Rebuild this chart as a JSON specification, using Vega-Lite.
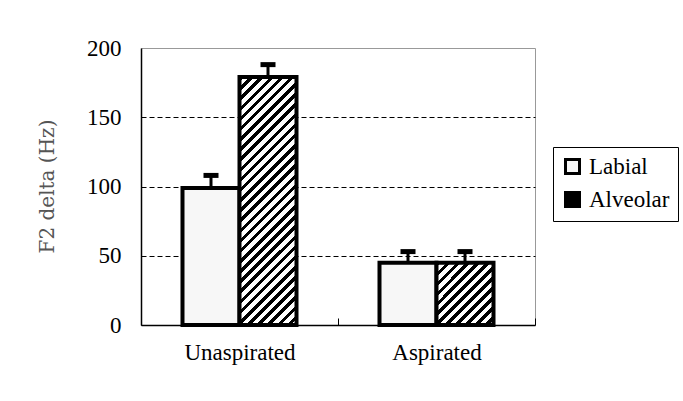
{
  "$schema": "https://vega.github.io/schema/vega-lite/v6.json",
  "width": 394,
  "height": 277,
  "autosize": {"type": "none"},
  "padding": {"left": 141, "top": 48, "right": 148, "bottom": 76},
  "background": "white",
  "config": {"view": {"stroke": "#999", "strokeWidth": 1}, "font": "Liberation Serif, serif"},
  "data": {"values": [
    {"cat": "Unaspirated", "type": "Labial", "value": 99, "err": 108},
    {"cat": "Unaspirated", "type": "Alveolar", "value": 179, "err": 188},
    {"cat": "Aspirated", "type": "Labial", "value": 45, "err": 53},
    {"cat": "Aspirated", "type": "Alveolar", "value": 45, "err": 53}
  ]},
  "encoding": {
    "x": {
      "field": "cat", "type": "nominal", "sort": ["Unaspirated", "Aspirated"],
      "scale": {"paddingInner": 0, "paddingOuter": 0},
      "axis": {
        "title": null, "labelAngle": 0, "labelFontSize": 23, "labelFont": "Liberation Serif, serif",
        "labelColor": "black", "labelPadding": 23, "labelBaseline": "top",
        "tickBand": "extent", "tickSize": -7, "tickColor": "black", "tickWidth": 1,
        "domainColor": "black", "domainWidth": 1.5
      }
    },
    "xOffset": {"field": "type", "sort": ["Labial", "Alveolar"], "scale": {"paddingInner": 0, "paddingOuter": 0.728}}
  },
  "layer": [
    {
      "mark": {"type": "bar", "stroke": "black", "strokeWidth": 4},
      "encoding": {
        "y": {
          "field": "value", "type": "quantitative",
          "scale": {"domain": [0, 200], "nice": false},
          "axis": {
            "title": "F2 delta (Hz)", "values": [0, 50, 100, 150, 200],
            "grid": true,
            "gridColor": "black",
            "gridDash": [5, 3],
            "gridOpacity": {"condition": {"test": "datum.value === 200 || datum.value === 0", "value": 0}, "value": 1},
            "ticks": false, "labelPadding": 20, "labelFontSize": 23, "labelFont": "Liberation Serif, serif",
            "labelColor": "black", "domainColor": "black", "domainWidth": 1.5,
            "titleFont": "DejaVu Serif, serif", "titleFontSize": 20, "titleFontWeight": "normal",
            "titleColor": "#555", "titleX": -94, "titleY": 138, "titleAngle": -90,
            "titleAlign": "center", "titleBaseline": "middle"
          }
        },
        "fill": {
          "field": "type", "type": "nominal",
          "scale": {"domain": ["Labial", "Alveolar"], "range": ["#f7f7f7", "black"]},
          "condition": [
            {"test": "datum.type === 'Alveolar' && datum.cat === 'Unaspirated'", "value": {
              "gradient": "linear", "x1": 0, "y1": 0, "x2": 0.2685, "y2": 1.168,
              "stops": [
                {"offset": 0, "color": "black"}, {"offset": 0.015, "color": "black"}, {"offset": 0.015, "color": "white"}, {"offset": 0.0333, "color": "white"},
                {"offset": 0.0333, "color": "black"}, {"offset": 0.0483, "color": "black"}, {"offset": 0.0483, "color": "white"}, {"offset": 0.0667, "color": "white"},
                {"offset": 0.0667, "color": "black"}, {"offset": 0.0817, "color": "black"}, {"offset": 0.0817, "color": "white"}, {"offset": 0.1, "color": "white"},
                {"offset": 0.1, "color": "black"}, {"offset": 0.115, "color": "black"}, {"offset": 0.115, "color": "white"}, {"offset": 0.1333, "color": "white"},
                {"offset": 0.1333, "color": "black"}, {"offset": 0.1483, "color": "black"}, {"offset": 0.1483, "color": "white"}, {"offset": 0.1667, "color": "white"},
                {"offset": 0.1667, "color": "black"}, {"offset": 0.1817, "color": "black"}, {"offset": 0.1817, "color": "white"}, {"offset": 0.2, "color": "white"},
                {"offset": 0.2, "color": "black"}, {"offset": 0.215, "color": "black"}, {"offset": 0.215, "color": "white"}, {"offset": 0.2333, "color": "white"},
                {"offset": 0.2333, "color": "black"}, {"offset": 0.2483, "color": "black"}, {"offset": 0.2483, "color": "white"}, {"offset": 0.2667, "color": "white"},
                {"offset": 0.2667, "color": "black"}, {"offset": 0.2817, "color": "black"}, {"offset": 0.2817, "color": "white"}, {"offset": 0.3, "color": "white"},
                {"offset": 0.3, "color": "black"}, {"offset": 0.315, "color": "black"}, {"offset": 0.315, "color": "white"}, {"offset": 0.3333, "color": "white"},
                {"offset": 0.3333, "color": "black"}, {"offset": 0.3483, "color": "black"}, {"offset": 0.3483, "color": "white"}, {"offset": 0.3667, "color": "white"},
                {"offset": 0.3667, "color": "black"}, {"offset": 0.3817, "color": "black"}, {"offset": 0.3817, "color": "white"}, {"offset": 0.4, "color": "white"},
                {"offset": 0.4, "color": "black"}, {"offset": 0.415, "color": "black"}, {"offset": 0.415, "color": "white"}, {"offset": 0.4333, "color": "white"},
                {"offset": 0.4333, "color": "black"}, {"offset": 0.4483, "color": "black"}, {"offset": 0.4483, "color": "white"}, {"offset": 0.4667, "color": "white"},
                {"offset": 0.4667, "color": "black"}, {"offset": 0.4817, "color": "black"}, {"offset": 0.4817, "color": "white"}, {"offset": 0.5, "color": "white"},
                {"offset": 0.5, "color": "black"}, {"offset": 0.515, "color": "black"}, {"offset": 0.515, "color": "white"}, {"offset": 0.5333, "color": "white"},
                {"offset": 0.5333, "color": "black"}, {"offset": 0.5483, "color": "black"}, {"offset": 0.5483, "color": "white"}, {"offset": 0.5667, "color": "white"},
                {"offset": 0.5667, "color": "black"}, {"offset": 0.5817, "color": "black"}, {"offset": 0.5817, "color": "white"}, {"offset": 0.6, "color": "white"},
                {"offset": 0.6, "color": "black"}, {"offset": 0.615, "color": "black"}, {"offset": 0.615, "color": "white"}, {"offset": 0.6333, "color": "white"},
                {"offset": 0.6333, "color": "black"}, {"offset": 0.6483, "color": "black"}, {"offset": 0.6483, "color": "white"}, {"offset": 0.6667, "color": "white"},
                {"offset": 0.6667, "color": "black"}, {"offset": 0.6817, "color": "black"}, {"offset": 0.6817, "color": "white"}, {"offset": 0.7, "color": "white"},
                {"offset": 0.7, "color": "black"}, {"offset": 0.715, "color": "black"}, {"offset": 0.715, "color": "white"}, {"offset": 0.7333, "color": "white"},
                {"offset": 0.7333, "color": "black"}, {"offset": 0.7483, "color": "black"}, {"offset": 0.7483, "color": "white"}, {"offset": 0.7667, "color": "white"},
                {"offset": 0.7667, "color": "black"}, {"offset": 0.7817, "color": "black"}, {"offset": 0.7817, "color": "white"}, {"offset": 0.8, "color": "white"},
                {"offset": 0.8, "color": "black"}, {"offset": 0.815, "color": "black"}, {"offset": 0.815, "color": "white"}, {"offset": 0.8333, "color": "white"},
                {"offset": 0.8333, "color": "black"}, {"offset": 0.8483, "color": "black"}, {"offset": 0.8483, "color": "white"}, {"offset": 0.8667, "color": "white"},
                {"offset": 0.8667, "color": "black"}, {"offset": 0.8817, "color": "black"}, {"offset": 0.8817, "color": "white"}, {"offset": 0.9, "color": "white"},
                {"offset": 0.9, "color": "black"}, {"offset": 0.915, "color": "black"}, {"offset": 0.915, "color": "white"}, {"offset": 0.9333, "color": "white"},
                {"offset": 0.9333, "color": "black"}, {"offset": 0.9483, "color": "black"}, {"offset": 0.9483, "color": "white"}, {"offset": 0.9667, "color": "white"},
                {"offset": 0.9667, "color": "black"}, {"offset": 0.9817, "color": "black"}, {"offset": 0.9817, "color": "white"}, {"offset": 1, "color": "white"}
              ]
            }},
            {"test": "datum.type === 'Alveolar' && datum.cat === 'Aspirated'", "value": {
              "gradient": "linear", "x1": 0, "y1": 0, "x2": 0.956, "y2": 1.04,
              "stops": [
                {"offset": 0, "color": "black"}, {"offset": 0.0375, "color": "black"}, {"offset": 0.0375, "color": "white"}, {"offset": 0.0833, "color": "white"},
                {"offset": 0.0833, "color": "black"}, {"offset": 0.1208, "color": "black"}, {"offset": 0.1208, "color": "white"}, {"offset": 0.1667, "color": "white"},
                {"offset": 0.1667, "color": "black"}, {"offset": 0.2042, "color": "black"}, {"offset": 0.2042, "color": "white"}, {"offset": 0.25, "color": "white"},
                {"offset": 0.25, "color": "black"}, {"offset": 0.2875, "color": "black"}, {"offset": 0.2875, "color": "white"}, {"offset": 0.3333, "color": "white"},
                {"offset": 0.3333, "color": "black"}, {"offset": 0.3708, "color": "black"}, {"offset": 0.3708, "color": "white"}, {"offset": 0.4167, "color": "white"},
                {"offset": 0.4167, "color": "black"}, {"offset": 0.4542, "color": "black"}, {"offset": 0.4542, "color": "white"}, {"offset": 0.5, "color": "white"},
                {"offset": 0.5, "color": "black"}, {"offset": 0.5375, "color": "black"}, {"offset": 0.5375, "color": "white"}, {"offset": 0.5833, "color": "white"},
                {"offset": 0.5833, "color": "black"}, {"offset": 0.6208, "color": "black"}, {"offset": 0.6208, "color": "white"}, {"offset": 0.6667, "color": "white"},
                {"offset": 0.6667, "color": "black"}, {"offset": 0.7042, "color": "black"}, {"offset": 0.7042, "color": "white"}, {"offset": 0.75, "color": "white"},
                {"offset": 0.75, "color": "black"}, {"offset": 0.7875, "color": "black"}, {"offset": 0.7875, "color": "white"}, {"offset": 0.8333, "color": "white"},
                {"offset": 0.8333, "color": "black"}, {"offset": 0.8708, "color": "black"}, {"offset": 0.8708, "color": "white"}, {"offset": 0.9167, "color": "white"},
                {"offset": 0.9167, "color": "black"}, {"offset": 0.9542, "color": "black"}, {"offset": 0.9542, "color": "white"}, {"offset": 1, "color": "white"}
              ]
            }}
          ],
          "legend": {
            "title": null, "orient": "none", "legendX": 412, "legendY": 99,
            "symbolType": "square", "symbolSize": 196, "symbolStrokeColor": "black", "symbolStrokeWidth": 3,
            "labelFontSize": 23, "labelFont": "Liberation Serif, serif", "labelColor": "black", "labelOffset": 5,
            "strokeColor": "black", "fillColor": "white", "padding": 8, "rowPadding": 6
          }
        }
      }
    },
    {
      "mark": {"type": "rule", "strokeWidth": 3, "color": "black"},
      "encoding": {
        "y": {"field": "value", "type": "quantitative"},
        "y2": {"field": "err"}
      }
    },
    {
      "mark": {"type": "tick", "color": "black", "thickness": 5, "size": 15, "opacity": 1},
      "encoding": {
        "y": {"field": "err", "type": "quantitative"}
      }
    }
  ]
}
